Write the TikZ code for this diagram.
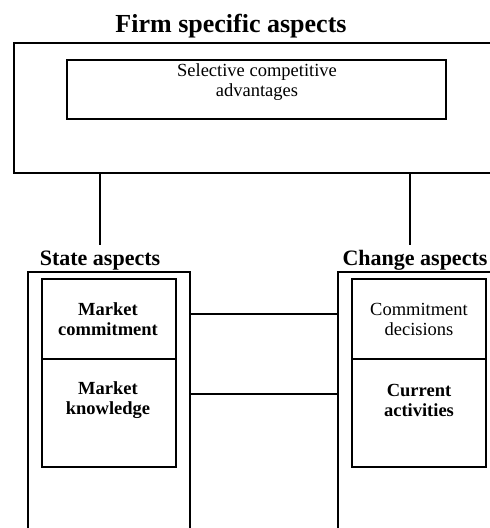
\documentclass[tikz,border=0pt]{standalone}
\usepackage{fontspec}
\setmainfont{Liberation Serif}
\begin{document}
\begin{tikzpicture}[x=1pt,y=-1pt,
  outerbox/.style={draw=black,line width=2.8pt,inner sep=0pt},
  innerbox/.style={draw=black,line width=1.4pt,inner sep=0pt},
  link/.style={draw=black,line width=2.8pt},
  heading/.style={font=\fontsize{22}{24}\selectfont\bfseries,inner sep=0pt,anchor=base},
  cellbold/.style={font=\fontsize{18.5}{20}\selectfont\bfseries,align=center,inner sep=0pt},
  cellplain/.style={font=\fontsize{18.5}{20}\selectfont,align=center,inner sep=0pt}]
\useasboundingbox (0,0) rectangle (490,528);
% top block
\node[heading,font=\fontsize{26}{28}\selectfont\bfseries] (title) at (231,32) {Firm specific aspects};
\node[outerbox,minimum width=486pt,minimum height=130pt] (firm) at (257,108) {};
\node[innerbox,minimum width=379pt,minimum height=59pt] (sca) at (256.5,89.5) {};
\node[cellplain] (scatext) at (257,82) {Selective competitive\\advantages};
% lower blocks
\node[heading] (statelbl) at (100,265) {State aspects};
\node[heading] (changelbl) at (415,265) {Change aspects};
\node[outerbox,minimum width=162pt,minimum height=270pt] (state) at (109,407) {};
\node[outerbox,minimum width=162pt,minimum height=270pt] (change) at (419,407) {};
\node[innerbox,minimum width=134pt,minimum height=80pt] (mc) at (109,319) {};
\node[innerbox,minimum width=134pt,minimum height=108pt] (mk) at (109,413) {};
\node[innerbox,minimum width=134pt,minimum height=80pt] (cd) at (419,319) {};
\node[innerbox,minimum width=134pt,minimum height=108pt] (ca) at (419,413) {};
\node[cellbold] at (108,319) {Market\\commitment};
\node[cellbold] at (108,400) {Market\\knowledge};
\node[cellplain] at (419,319) {Commitment\\decisions};
\node[cellbold] at (419,400) {Current\\activities};
% connectors
\coordinate (sl) at (100,245);
\coordinate (cl) at (410,245);
\draw[link] (firm.south -| sl) -- (sl);
\draw[link] (firm.south -| cl) -- (cl);
\draw[link] (state.east |- 0,314) -- (change.west |- 0,314);
\draw[link] (state.east |- 0,394) -- (change.west |- 0,394);
\end{tikzpicture}
\end{document}
